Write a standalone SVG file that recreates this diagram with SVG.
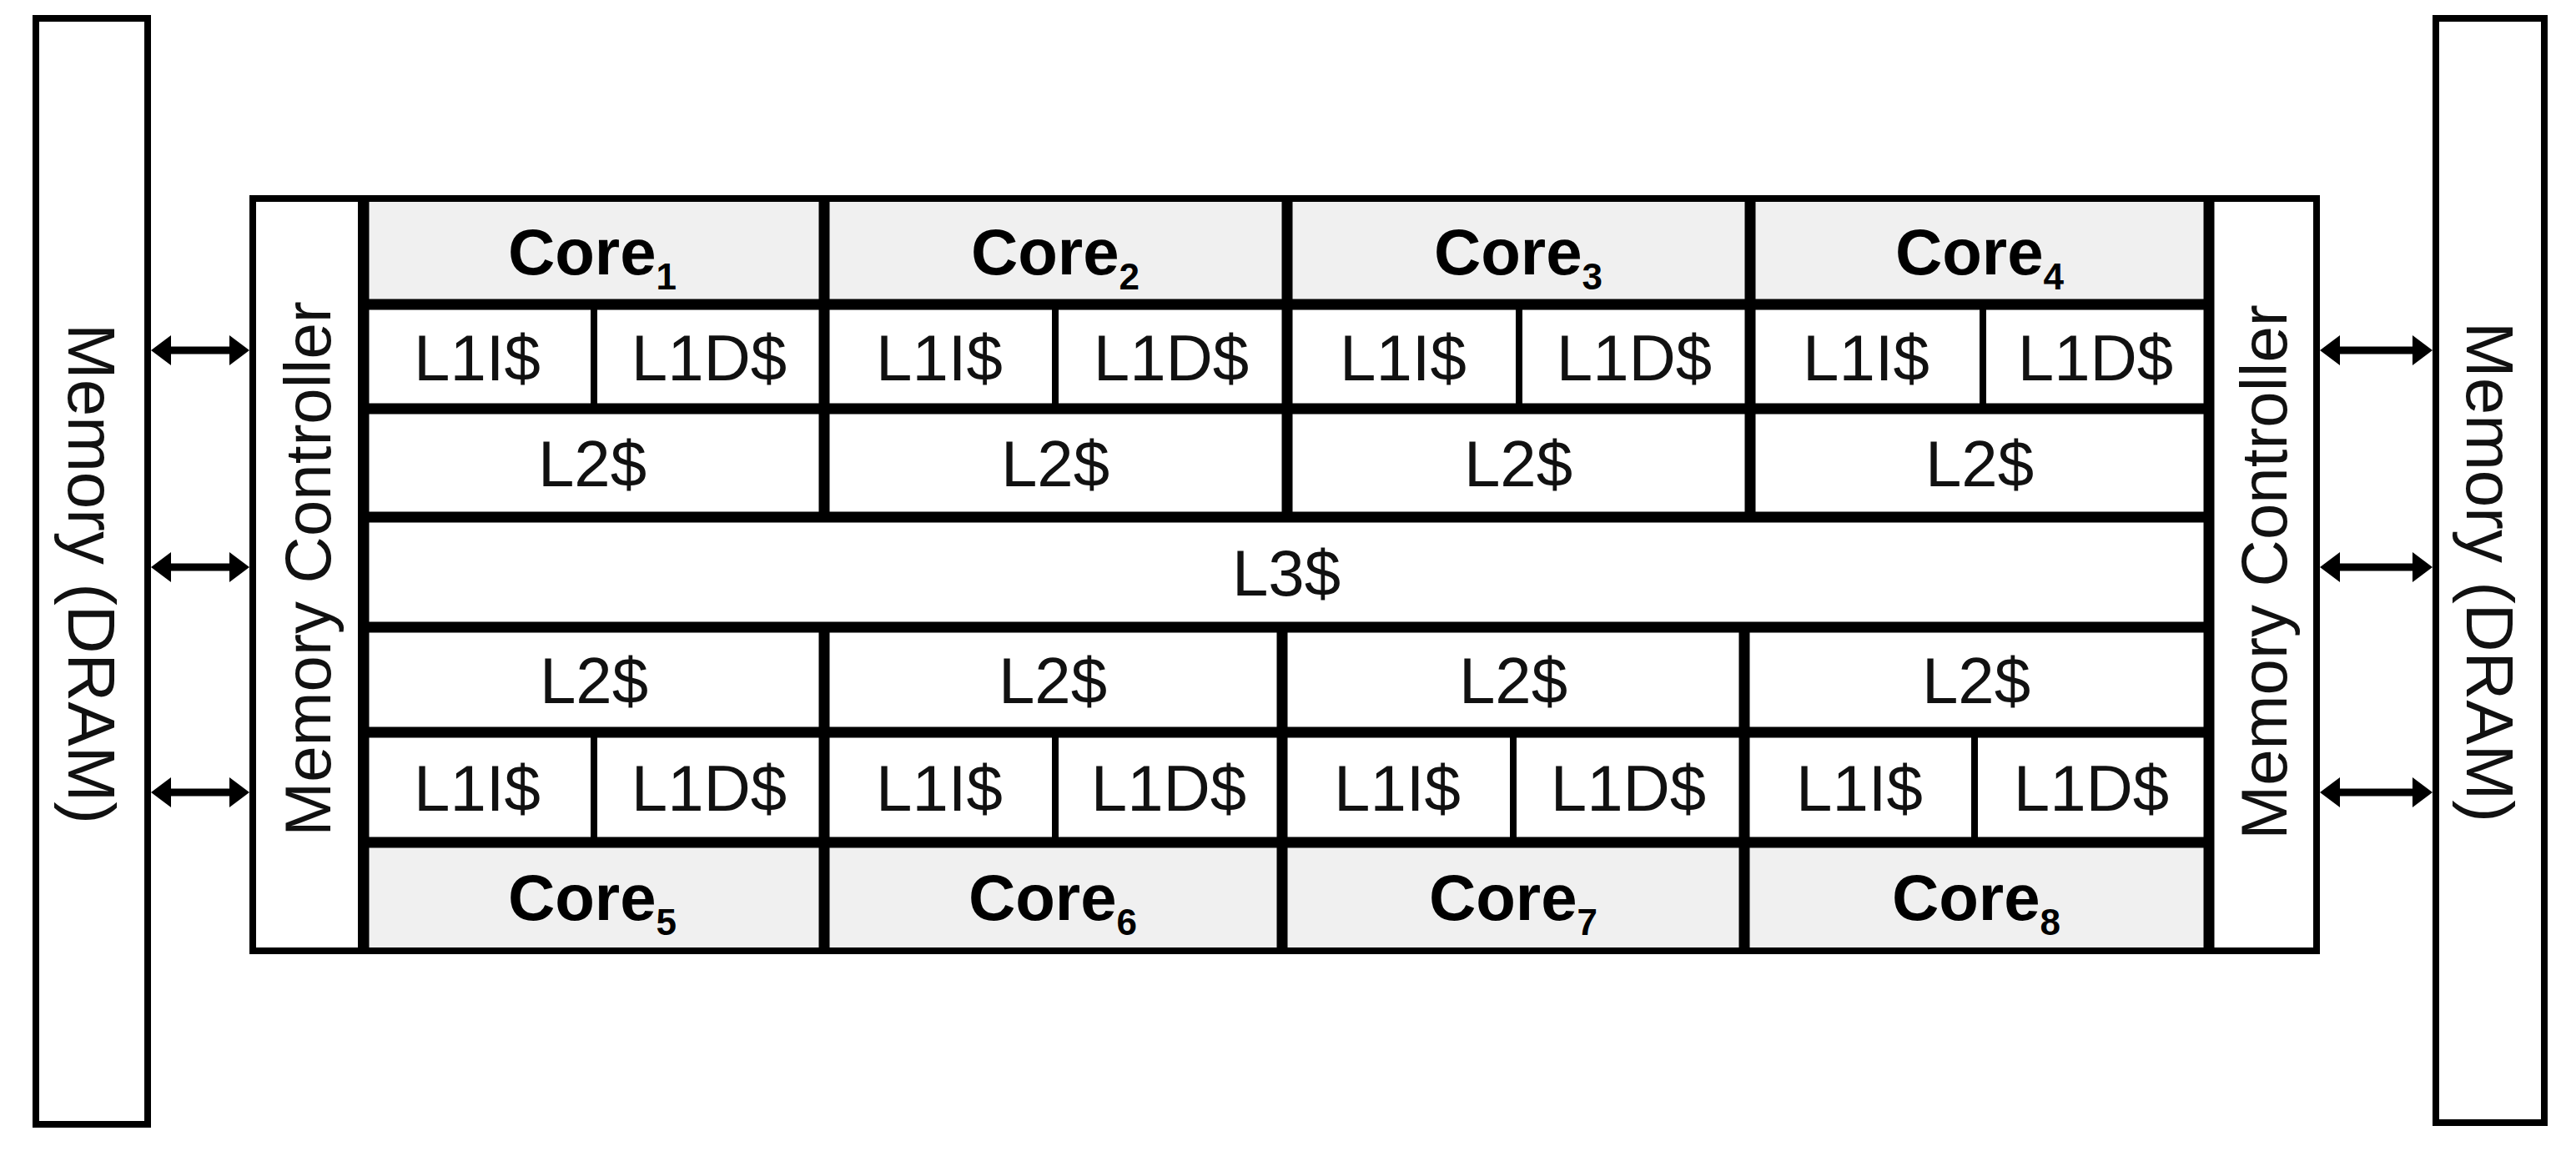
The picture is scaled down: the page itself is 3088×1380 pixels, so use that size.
<svg xmlns="http://www.w3.org/2000/svg" width="3088" height="1380" viewBox="0 0 3088 1380">
<defs>
<style>
.core{fill:#f0f0f0}
.cell{fill:#ffffff}
.box{fill:#ffffff;stroke:#000;stroke-width:8}
.t{font-family:"Liberation Sans",Arial,sans-serif;font-size:78px;fill:#111;text-anchor:middle}
.tb{font-family:"Liberation Sans",Arial,sans-serif;font-size:78px;font-weight:bold;fill:#000;text-anchor:middle}
.sub{font-size:44px}
.mem{font-family:"Liberation Sans",Arial,sans-serif;font-size:80px;fill:#111;text-anchor:middle}
.g12{stroke:#000;stroke-width:13;fill:none}
.g8{stroke:#000;stroke-width:8;fill:none}
.arrow{stroke:#000;stroke-width:9;fill:none;marker-start:url(#ah);marker-end:url(#ah)}
</style>
<marker id="ah" viewBox="0 -19 26 38" refX="14" refY="0" markerWidth="26" markerHeight="38" markerUnits="userSpaceOnUse" orient="auto-start-reverse">
<path d="M0,-18 L24,0 L0,18 z" fill="#000"/>
</marker>
</defs>
<rect x="0" y="0" width="3088" height="1380" fill="#ffffff"/>

<!-- Memories -->
<g id="mem-left">
<rect class="box" x="43" y="22" width="134" height="1326"/>
<text class="mem" transform="translate(110,688) rotate(90)" y="28">Memory (DRAM)</text>
</g>
<g id="mem-right">
<rect class="box" x="2920" y="22" width="130" height="1324"/>
<text class="mem" transform="translate(2985,686) rotate(90)" y="28">Memory (DRAM)</text>
</g>

<!-- Memory controllers -->
<g id="mc-left">
<rect class="box" x="303" y="238" width="130" height="902"/>
<text class="t" transform="translate(368,682) rotate(-90)" y="28">Memory Controller</text>
</g>
<g id="mc-right">
<rect class="box" x="2648" y="238" width="129" height="902"/>
<text class="t" transform="translate(2713,686) rotate(-90)" y="28">Memory Controller</text>
</g>

<!-- Top cores -->
<g id="core1"><rect class="core" x="433" y="238" width="555" height="127"/><text class="tb" x="710" y="329">Core<tspan class="sub" dy="18">1</tspan></text></g>
<g id="core2"><rect class="core" x="988" y="238" width="555" height="127"/><text class="tb" x="1265" y="329">Core<tspan class="sub" dy="18">2</tspan></text></g>
<g id="core3"><rect class="core" x="1543" y="238" width="555" height="127"/><text class="tb" x="1820" y="329">Core<tspan class="sub" dy="18">3</tspan></text></g>
<g id="core4"><rect class="core" x="2098" y="238" width="550" height="127"/><text class="tb" x="2373" y="329">Core<tspan class="sub" dy="18">4</tspan></text></g>

<!-- Top L1 -->
<g id="l1i-1"><rect class="cell" x="433" y="365" width="279" height="125"/><text class="t" x="572" y="456">L1I$</text></g>
<g id="l1d-1"><rect class="cell" x="712" y="365" width="276" height="125"/><text class="t" x="850" y="456">L1D$</text></g>
<g id="l1i-2"><rect class="cell" x="988" y="365" width="277" height="125"/><text class="t" x="1126" y="456">L1I$</text></g>
<g id="l1d-2"><rect class="cell" x="1265" y="365" width="278" height="125"/><text class="t" x="1404" y="456">L1D$</text></g>
<g id="l1i-3"><rect class="cell" x="1543" y="365" width="278" height="125"/><text class="t" x="1682" y="456">L1I$</text></g>
<g id="l1d-3"><rect class="cell" x="1821" y="365" width="277" height="125"/><text class="t" x="1959" y="456">L1D$</text></g>
<g id="l1i-4"><rect class="cell" x="2098" y="365" width="279" height="125"/><text class="t" x="2237" y="456">L1I$</text></g>
<g id="l1d-4"><rect class="cell" x="2377" y="365" width="271" height="125"/><text class="t" x="2512" y="456">L1D$</text></g>

<!-- Top L2 -->
<g id="l2-1"><rect class="cell" x="433" y="490" width="555" height="130"/><text class="t" x="710" y="583">L2$</text></g>
<g id="l2-2"><rect class="cell" x="988" y="490" width="555" height="130"/><text class="t" x="1265" y="583">L2$</text></g>
<g id="l2-3"><rect class="cell" x="1543" y="490" width="555" height="130"/><text class="t" x="1820" y="583">L2$</text></g>
<g id="l2-4"><rect class="cell" x="2098" y="490" width="550" height="130"/><text class="t" x="2373" y="583">L2$</text></g>

<!-- L3 -->
<g id="l3"><rect class="cell" x="433" y="620" width="2215" height="132"/><text class="t" x="1542" y="714">L3$</text></g>

<!-- Bottom L2 -->
<g id="l2-5"><rect class="cell" x="433" y="752" width="555" height="126"/><text class="t" x="712" y="843">L2$</text></g>
<g id="l2-6"><rect class="cell" x="988" y="752" width="549" height="126"/><text class="t" x="1262" y="843">L2$</text></g>
<g id="l2-7"><rect class="cell" x="1537" y="752" width="554" height="126"/><text class="t" x="1814" y="843">L2$</text></g>
<g id="l2-8"><rect class="cell" x="2091" y="752" width="557" height="126"/><text class="t" x="2369" y="843">L2$</text></g>

<!-- Bottom L1 -->
<g id="l1i-5"><rect class="cell" x="433" y="878" width="279" height="132"/><text class="t" x="572" y="972">L1I$</text></g>
<g id="l1d-5"><rect class="cell" x="712" y="878" width="276" height="132"/><text class="t" x="850" y="972">L1D$</text></g>
<g id="l1i-6"><rect class="cell" x="988" y="878" width="277" height="132"/><text class="t" x="1126" y="972">L1I$</text></g>
<g id="l1d-6"><rect class="cell" x="1265" y="878" width="272" height="132"/><text class="t" x="1401" y="972">L1D$</text></g>
<g id="l1i-7"><rect class="cell" x="1537" y="878" width="277" height="132"/><text class="t" x="1675" y="972">L1I$</text></g>
<g id="l1d-7"><rect class="cell" x="1814" y="878" width="277" height="132"/><text class="t" x="1952" y="972">L1D$</text></g>
<g id="l1i-8"><rect class="cell" x="2091" y="878" width="276" height="132"/><text class="t" x="2229" y="972">L1I$</text></g>
<g id="l1d-8"><rect class="cell" x="2367" y="878" width="281" height="132"/><text class="t" x="2507" y="972">L1D$</text></g>

<!-- Bottom cores -->
<g id="core5"><rect class="core" x="433" y="1010" width="555" height="130"/><text class="tb" x="710" y="1103">Core<tspan class="sub" dy="18">5</tspan></text></g>
<g id="core6"><rect class="core" x="988" y="1010" width="549" height="130"/><text class="tb" x="1262" y="1103">Core<tspan class="sub" dy="18">6</tspan></text></g>
<g id="core7"><rect class="core" x="1537" y="1010" width="554" height="130"/><text class="tb" x="1814" y="1103">Core<tspan class="sub" dy="18">7</tspan></text></g>
<g id="core8"><rect class="core" x="2091" y="1010" width="557" height="130"/><text class="tb" x="2369" y="1103">Core<tspan class="sub" dy="18">8</tspan></text></g>

<!-- Grid lines -->
<g id="grid">
<path class="g8" d="M303,238 H2777 M433,1140 H2648"/>
<path class="g12" d="M433,365 H2648 M433,490 H2648 M433,620 H2648 M433,752 H2648 M433,878 H2648 M433,1010 H2648"/>
<path class="g12" d="M436,238 V1144 M2648,238 V1144 M988,238 V620 M1543,238 V620 M2098,238 V620 M988,752 V1140 M1537,752 V1140 M2091,752 V1140"/>
<path class="g8" d="M712,365 V490 M1265,365 V490 M1821,365 V490 M2377,365 V490 M712,878 V1010 M1265,878 V1010 M1814,878 V1010 M2367,878 V1010"/>
</g>

<!-- Connectors -->
<g id="connectors">
<line class="arrow" x1="191" y1="420" x2="289" y2="420"/>
<line class="arrow" x1="191" y1="680" x2="289" y2="680"/>
<line class="arrow" x1="191" y1="950" x2="289" y2="950"/>
<line class="arrow" x1="2791" y1="420" x2="2906" y2="420"/>
<line class="arrow" x1="2791" y1="680" x2="2906" y2="680"/>
<line class="arrow" x1="2791" y1="950" x2="2906" y2="950"/>
</g>
</svg>
